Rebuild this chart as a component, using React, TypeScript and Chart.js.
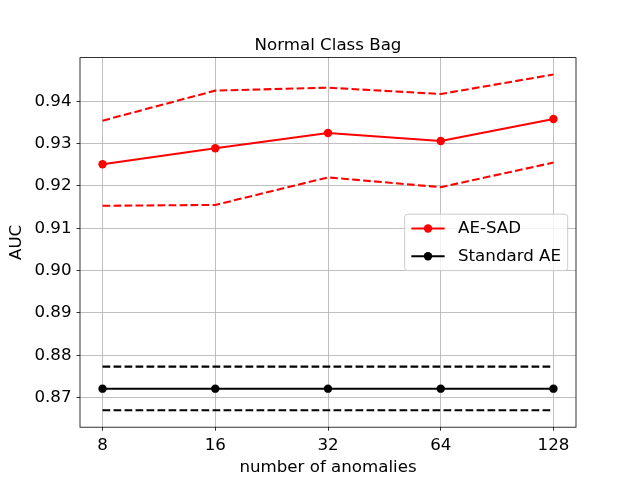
import React, {useEffect, useRef} from 'react';
import {Chart, registerables} from 'chart.js';

Chart.register(...registerables);

const anomalyCounts = ['8', '16', '32', '64', '128'];

const aeSadMean = [0.9251, 0.9289, 0.9325, 0.9306, 0.9358];
const aeSadUpper = [0.9354, 0.9425, 0.9432, 0.9417, 0.9463];
const aeSadLower = [0.9153, 0.9155, 0.9220, 0.9197, 0.9255];

const standardMean = [0.8721, 0.8721, 0.8721, 0.8721, 0.8721];
const standardUpper = [0.8773, 0.8773, 0.8773, 0.8773, 0.8773];
const standardLower = [0.8670, 0.8670, 0.8670, 0.8670, 0.8670];

const yTicks = [0.87, 0.88, 0.89, 0.90, 0.91, 0.92, 0.93, 0.94];

const TITLE = 'Normal Class Bag';
const FAMILY = 'DejaVu Sans';
const SIZE = 16.67;
const font = {family: FAMILY, size: SIZE, weight: 'normal' as const};
const LINE_W = 2.08;
const DASH = [7.7, 3.3];

const pts = (vals: number[]) => vals.map((y, x) => ({x, y}));

// matplotlib title, spines and legend ('center right'), drawn on top of the lines
const frameAndLegend = {
  id: 'frameAndLegend',
  afterDatasetsDraw(chart: Chart) {
    const {ctx, chartArea: a} = chart;
    ctx.save();
    ctx.strokeStyle = '#000';
    ctx.lineWidth = 0.8;
    ctx.strokeRect(a.left, a.top, a.right - a.left, a.bottom - a.top);

    ctx.font = `${SIZE}px "${FAMILY}"`;
    ctx.fillStyle = '#000';
    ctx.textAlign = 'center';
    ctx.textBaseline = 'alphabetic';
    ctx.fillText(TITLE, (a.left + a.right) / 2, a.top - 7.6);

    const items = chart.data.datasets.filter((d: any) => !d.borderDash);
    const pad = 0.4 * SIZE;
    const handle = 2 * SIZE;
    const textPad = 0.8 * SIZE;
    const rowH = 27.7;
    const textW = Math.max(...items.map(d => ctx.measureText(String(d.label)).width));
    const boxW = pad + handle + textPad + textW + pad;
    const boxH = items.length * rowH + 1;
    const right = a.right - 0.5 * SIZE;
    const left = right - boxW;
    const top = (a.top + a.bottom) / 2 - boxH / 2;

    ctx.beginPath();
    ctx.roundRect(left, top, boxW, boxH, 3);
    ctx.fillStyle = 'rgba(255,255,255,0.8)';
    ctx.fill();
    ctx.strokeStyle = '#cccccc';
    ctx.lineWidth = 1;
    ctx.stroke();

    items.forEach((d: any, i) => {
      const cy = top + 0.5 + rowH * (i + 0.5);
      const hx = left + pad;
      ctx.strokeStyle = d.borderColor;
      ctx.lineWidth = LINE_W;
      ctx.beginPath();
      ctx.moveTo(hx, cy);
      ctx.lineTo(hx + handle, cy);
      ctx.stroke();
      ctx.fillStyle = d.borderColor;
      ctx.beginPath();
      ctx.arc(hx + handle / 2, cy, d.pointRadius, 0, Math.PI * 2);
      ctx.fill();
      ctx.fillStyle = '#000';
      ctx.textBaseline = 'middle';
      ctx.textAlign = 'left';
      ctx.fillText(String(d.label), hx + handle + textPad, cy);
    });
    ctx.restore();
  },
};

function solid(label: string, data: number[], color: string) {
  return {
    label,
    data: pts(data),
    borderColor: color,
    backgroundColor: color,
    borderWidth: LINE_W,
    borderJoinStyle: 'round' as const,
    pointRadius: 4.2,
    pointBackgroundColor: color,
    pointBorderWidth: 0,
  };
}

function dashed(label: string, data: number[], color: string) {
  return {
    label,
    data: pts(data),
    borderColor: color,
    borderWidth: LINE_W,
    borderDash: DASH,
    pointRadius: 0,
  };
}

function AucChart() {
  const canvasRef = useRef<HTMLCanvasElement>(null);
  useEffect(() => {
    if (!canvasRef.current) return;
    const grid = {color: '#b0b0b0', lineWidth: 0.8, tickLength: 3.5, tickColor: '#000', tickWidth: 0.8};
    const chart = new Chart(canvasRef.current, {
      type: 'line',
      data: {
        datasets: [
          solid('AE-SAD', aeSadMean, '#ff0000'),
          dashed('AE-SAD upper', aeSadUpper, '#ff0000'),
          dashed('AE-SAD lower', aeSadLower, '#ff0000'),
          solid('Standard AE', standardMean, '#000000'),
          dashed('Standard AE upper', standardUpper, '#000000'),
          dashed('Standard AE lower', standardLower, '#000000'),
        ],
      },
      options: {
        responsive: false,
        animation: false,
        events: [],
        layout: {padding: {top: 57.6, right: 64, bottom: 0, left: 0}},
        plugins: {
          legend: {display: false},
          tooltip: {enabled: false},
          title: {display: false},
        },
        scales: {
          x: {
            type: 'linear',
            min: -0.2,
            max: 4.2,
            afterBuildTicks: (axis: any) => {
              axis.ticks = anomalyCounts.map((_, i) => ({value: i}));
            },
            afterFit: (axis: any) => {
              axis.height = 52.8;
            },
            ticks: {
              callback: (v: any) => anomalyCounts[v],
              color: '#000',
              font,
              padding: 4.5,
              maxRotation: 0,
              autoSkip: false,
            },
            grid,
            border: {display: false},
            title: {
              display: true,
              text: 'number of anomalies',
              color: '#000',
              font,
              padding: {top: 0, bottom: 2},
            },
          },
          y: {
            type: 'linear',
            min: 0.863,
            max: 0.9503,
            afterBuildTicks: (axis: any) => {
              axis.ticks = yTicks.map(v => ({value: v}));
            },
            afterFit: (axis: any) => {
              axis.width = 80;
            },
            ticks: {
              callback: (v: any) => Number(v).toFixed(2),
              color: '#000',
              font,
              padding: 5,
            },
            grid,
            border: {display: false},
            title: {
              display: true,
              text: 'AUC',
              color: '#000',
              font,
              padding: {top: 7, bottom: 0},
            },
          },
        },
      },
      plugins: [frameAndLegend],
    });

    return () => {
      chart.destroy();
    };
  }, []);

  return (
    <div style={{position: 'absolute', left: 0, top: 0, width: 640, height: 480, background: '#fff'}}>
      <canvas ref={canvasRef} width={640} height={480}/>
    </div>
  );
}

export default function App() {
  return <AucChart/>;
}
